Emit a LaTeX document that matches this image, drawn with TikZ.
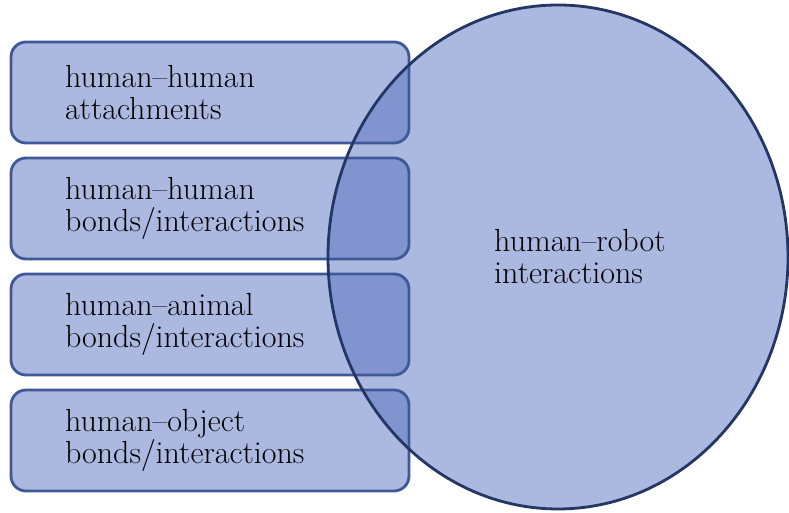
\documentclass[tikz,border=0pt]{standalone}
\usetikzlibrary{shapes.geometric}

\definecolor{relfill}{RGB}{87,113,193}
\definecolor{boxline}{RGB}{62,88,152}
\definecolor{ovalline}{RGB}{36,54,100}

\tikzset{
  relbox/.style={rectangle, rounded corners=0.3cm, draw=boxline, line width=1.6pt,
    fill=relfill, fill opacity=0.5, text opacity=1,
    minimum width=7.96cm, minimum height=2.02cm, inner xsep=1.08cm,
    text width=5.8cm, align=left},
  oval/.style={ellipse, fill=relfill, fill opacity=0.5,
    minimum width=9.2cm, minimum height=10.08cm, inner sep=0pt},
  reltext/.style={font=\fontsize{18.2}{18.2}\selectfont, text=black}
}

\begin{document}
\begin{tikzpicture}
\useasboundingbox (0,0) rectangle (15.78,10.26);

\node[oval] (hri) at (11.16,5.12) {};

\node[relbox, reltext] (hha) at (4.2,8.41) {human--human\\attachments};
\node[relbox, reltext] (hhb) at (4.2,6.09) {human--human\\bonds/interactions};
\node[relbox, reltext] (hab) at (4.2,3.77) {human--animal\\bonds/interactions};
\node[relbox, reltext] (hob) at (4.2,1.45) {human--object\\bonds/interactions};

% outline of the robot circle on top
\draw[ovalline, line width=1.6pt] (hri.center) ellipse [x radius=4.6, y radius=5.04];
\node[reltext, anchor=west, align=left] (hrt) at (9.76,5.12) {human--robot\\interactions};
\end{tikzpicture}
\end{document}
